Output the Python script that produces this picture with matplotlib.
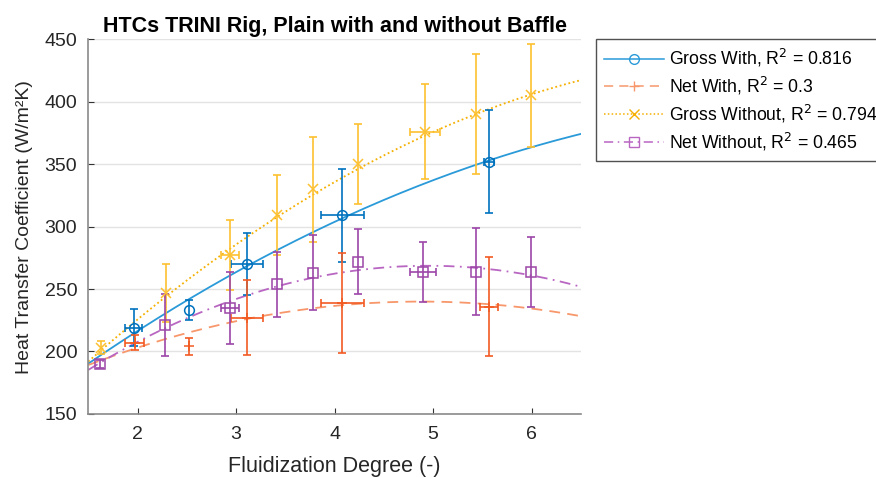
import numpy as np
import matplotlib
matplotlib.use("Agg")
import matplotlib.pyplot as plt
from matplotlib.lines import Line2D

plt.rcParams["font.family"] = ["Liberation Sans", "DejaVu Sans"]

# --------------------------- DATA --------------------------- #

# Gross With (circles)
gw_x = [1.96, 2.52, 3.11, 4.08, 5.57]
gw_y = [219, 233, 270, 309, 352]
gw_yerr = [15, 8, 25, 37, 41]
gw_xerr = [0.085, 0, 0.165, 0.22, 0.05]

# Net With (plus)
nw_x = [1.97, 2.52, 3.11, 4.08, 5.57]
nw_y = [207, 204, 227, 239, 236]
nw_yerr = [6, 7, 30, 40, 40]
nw_xerr = [0.1, 0, 0.16, 0.22, 0.09]

# Gross Without (x)
gwo_x = [1.63, 2.29, 2.94, 3.42, 3.78, 4.24, 4.92, 5.44, 5.99]
gwo_y = [203, 247, 277, 309, 330, 350, 376, 390, 405]
gwo_yerr = [5, 23, 28, 32, 42, 32, 38, 48, 41]
gwo_xerr = [0, 0, 0.09, 0, 0, 0, 0.15, 0, 0]

# Net Without (squares)
nwo_x = [1.62, 2.28, 2.94, 3.42, 3.78, 4.24, 4.90, 5.44, 5.99]
nwo_y = [190, 221, 235, 254, 263, 272, 264, 264, 264]
nwo_yerr = [3, 25, 29, 26, 30, 26, 24, 35, 28]
nwo_xerr = [0, 0, 0.09, 0, 0, 0, 0.13, 0, 0]

# fitted trend curves
fit_x = {
    "gw": [1.5, 2.633, 4.664, 5.271, 6.5],
    "nw": [1.5, 3.243, 4.664, 6.424],
    "gwo": [1.5, 3.243, 4.664, 5.271, 6.5],
    "nwo": [1.5, 3.243, 4.664, 4.968, 6.5],
}
fit_y = {
    "gw": [190.6, 246.5, 326.7, 345.4, 373.9],
    "nw": [189.2, 227.9, 239.9, 229.3],
    "gwo": [191.9, 299.2, 361.4, 386.7, 416.9],
    "nwo": [185.2, 248.5, 267.9, 268.5, 251.9],
}

labels = [
    "Gross With, R$^2$ = 0.816",
    "Net With, R$^2$ = 0.3",
    "Gross Without, R$^2$ = 0.794",
    "Net Without, R$^2$ = 0.465",
]

# --------------------------- PLOTTING --------------------------- #

fig = plt.figure(figsize=(8.76, 4.78), dpi=100)
ax = fig.add_axes([0.1008, 0.134, 0.5622, 0.784])

series = [
    ("gw", gw_x, gw_y, gw_yerr, gw_xerr, "o", "#0072BD", "#2a9ad8", "-"),
    ("nw", nw_x, nw_y, nw_yerr, nw_xerr, "+", "#F25A22", "#F7976B", (0, (6, 4))),
    ("gwo", gwo_x, gwo_y, gwo_yerr, gwo_xerr, "x", "#FDC030", "#F5B000", (0, (1, 1.5))),
    ("nwo", nwo_x, nwo_y, nwo_yerr, nwo_xerr, "s", "#9C46A8", "#B866C2", (0, (6, 3, 1, 3))),
]

xs = np.linspace(1.5, 6.5, 200)
handles = []
for key, x, y, yerr, xerr, mk, ecol, lcol, ls in series:
    x = np.array(x)
    y = np.array(y)
    xerr = np.array(xerr)
    ax.errorbar(x, y, yerr=yerr, fmt="none", ecolor=ecol, elinewidth=1.2,
                capsize=3, capthick=1.2, zorder=3)
    m = xerr > 0
    ax.errorbar(x[m], y[m], xerr=xerr[m], fmt="none", ecolor=ecol, elinewidth=1.2,
                capsize=3, capthick=1.2, zorder=3)
    ax.plot(x, y, linestyle="none", marker=mk, markersize=7, markerfacecolor="none",
            markeredgecolor=ecol, markeredgewidth=1.1, zorder=4)
    c = np.polyfit(fit_x[key], fit_y[key], 2)
    ax.plot(xs, np.polyval(c, xs), color=lcol, linestyle=ls, linewidth=1.3, zorder=2)
    handles.append(Line2D([], [], color=lcol, linestyle=ls, linewidth=1.1, marker=mk,
                          markersize=7, markerfacecolor="none", markeredgecolor=lcol))

ax.set_xlim(1.5, 6.5)
ax.set_ylim(150, 450)
ax.set_xticks([2, 3, 4, 5, 6])
ax.set_yticks(range(150, 451, 50))
ax.yaxis.grid(True, color="#e3e3e3", linewidth=1)
ax.set_axisbelow(True)
for s in ["top", "right"]:
    ax.spines[s].set_visible(False)
for s in ["left", "bottom"]:
    ax.spines[s].set_color("#8a8a8a")
    ax.spines[s].set_linewidth(1.2)
ax.tick_params(direction="in", length=4, color="#333333", labelsize=14,
               labelcolor="#262626")
ax.tick_params(axis="y", pad=8)
ax.tick_params(axis="x", pad=9)

ax.set_xlabel("Fluidization Degree (-)", fontsize=15.5, color="#262626", labelpad=9)
ax.set_ylabel("Heat Transfer Coefficient (W/m²K)", fontsize=14, color="#262626",
              labelpad=8)
ax.set_title("HTCs TRINI Rig, Plain with and without Baffle", fontsize=15.5,
             fontweight="bold", pad=5)

leg = fig.legend(handles, labels, loc="upper left", bbox_to_anchor=(0.6804, 0.918),
                 borderaxespad=0, fontsize=12.7, frameon=True, fancybox=False,
                 edgecolor="#262626", handlelength=3.4, handletextpad=0.3,
                 borderpad=0.45, labelspacing=0.33)
leg.get_frame().set_linewidth(1.0)

plt.savefig("out.png", dpi=100)
